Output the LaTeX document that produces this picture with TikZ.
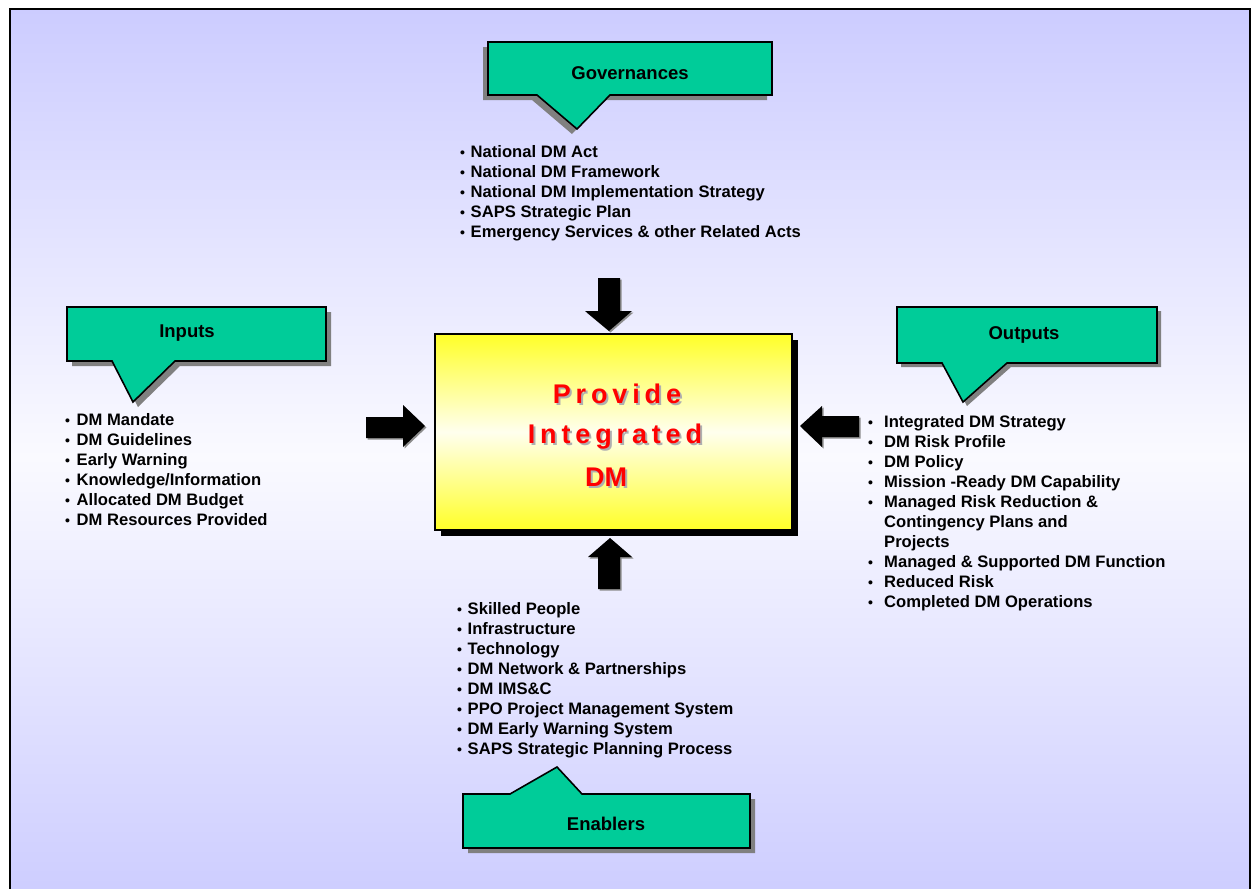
\documentclass[tikz,border=0pt]{standalone}
\usepackage{fontspec}
\setmainfont{Liberation Sans}
\newfontfamily\spacedfont[LetterSpace=18]{Liberation Sans}
\definecolor{calloutgreen}{RGB}{0,204,153}
\definecolor{bgedge}{RGB}{204,204,255}
\definecolor{bgmid}{RGB}{250,250,255}
\definecolor{boxyellow}{RGB}{255,255,40}
\definecolor{boxmid}{RGB}{255,255,238}
\definecolor{titlered}{RGB}{255,0,0}
\definecolor{textshadow}{RGB}{175,175,175}
\newcommand\bu{\makebox[\bw][l]{\fontsize{14}{14}\selectfont •}}
\begin{document}
\begin{tikzpicture}[x=1pt,y=-1pt,
  callout/.style={fill=calloutgreen,draw=black,line width=1.6pt,line join=miter},
  calloutshadow/.style={fill=black!50},
  calloutlabel/.style={font=\fontsize{18.5}{20}\selectfont\bfseries,inner sep=0pt},
  listtext/.style={font=\fontsize{16.6}{20}\selectfont\bfseries,inner sep=0pt,anchor=base west},
  blockarrow/.style={fill=black},
  arrowshadow/.style={fill=black!45},
  coretext/.style={inner sep=0pt,anchor=base,text=titlered},
  coreshadow/.style={inner sep=0pt,anchor=base,text=textshadow}]
\useasboundingbox (0,0) rectangle (1254,889);
\fill[white] (0,0) rectangle (1254,889);
% background frame
\shade[top color=bgedge,bottom color=bgedge,middle color=bgmid] (10,9) rectangle (1250,905);
\draw[line width=2.5pt] (10,9) rectangle (1250,905);

% central box
\fill[black] (441,340) rectangle (798,536);
\node[draw=black,line width=2pt,minimum width=357pt,minimum height=196pt,
  top color=boxyellow,bottom color=boxyellow,middle color=boxmid,inner sep=0pt]
  (core) at (613.5,432) {};
\node[coreshadow] (provideS) at (619,405) {\fontsize{27}{27}\selectfont\bfseries\spacedfont Provide};
\node[coretext] (provide) at (617,403) {\fontsize{27}{27}\selectfont\bfseries\spacedfont Provide};
\node[coreshadow] (integratedS) at (617,445) {\fontsize{27}{27}\selectfont\bfseries\spacedfont Integrated};
\node[coretext] (integrated) at (615,443) {\fontsize{27}{27}\selectfont\bfseries\spacedfont Integrated};
\node[coreshadow] (dmS) at (608,488) {\fontsize{27}{27}\selectfont\bfseries DM};
\node[coretext] (dm) at (606,486) {\fontsize{27}{27}\selectfont\bfseries DM};

% Governances callout
\fill[calloutshadow] (483,47) -- (767,47) -- (767,100) -- (605,100) -- (572,134) -- (532,100) -- (483,100) -- cycle;
\draw[callout] (488,42) -- (772,42) -- (772,95) -- (610,95) -- (577,129) -- (537,95) -- (488,95) -- cycle;
\node[calloutlabel] (gov) at (630,73) {Governances};

% Inputs callout
\fill[calloutshadow] (72,312) -- (331,312) -- (331,366) -- (180,366) -- (138,407) -- (117,366) -- (72,366) -- cycle;
\draw[callout] (67,307) -- (326,307) -- (326,361) -- (175,361) -- (133,402) -- (112,361) -- (67,361) -- cycle;
\node[calloutlabel] (inp) at (187,333) {Inputs};

% Outputs callout
\fill[calloutshadow] (901,311) -- (1161,311) -- (1161,367) -- (1011,367) -- (967,406) -- (946,367) -- (901,367) -- cycle;
\draw[callout] (897,307) -- (1157,307) -- (1157,363) -- (1007,363) -- (963,402) -- (942,363) -- (897,363) -- cycle;
\node[calloutlabel] (outp) at (1024,335) {Outputs};

% Enablers callout
\fill[calloutshadow] (468,799) -- (515,799) -- (562,772) -- (587,799) -- (755,799) -- (755,853) -- (468,853) -- cycle;
\draw[callout] (463,794) -- (510,794) -- (557,767) -- (582,794) -- (750,794) -- (750,848) -- (463,848) -- cycle;
\node[calloutlabel] (enab) at (606,824) {Enablers};

% block arrows
% top (down)
\fill[arrowshadow] (599.5,279.5) -- (621.5,279.5) -- (621.5,312.5) -- (633.5,312.5) -- (610.5,332.5) -- (586.5,312.5) -- (599.5,312.5) -- cycle;
\fill[blockarrow] (598,278) -- (620,278) -- (620,311) -- (632,311) -- (609,331) -- (585,311) -- (598,311) -- cycle;
% bottom (up)
\fill[arrowshadow] (611.5,539.5) -- (633.5,558.5) -- (621.5,558.5) -- (621.5,590.5) -- (599.5,590.5) -- (599.5,558.5) -- (589.5,558.5) -- cycle;
\fill[blockarrow] (610,538) -- (632,557) -- (620,557) -- (620,589) -- (598,589) -- (598,557) -- (588,557) -- cycle;
% left (right-pointing)
\fill[arrowshadow] (367.5,418.5) -- (404.5,418.5) -- (404.5,406.5) -- (426.5,427.5) -- (404.5,448.5) -- (404.5,439.5) -- (367.5,439.5) -- cycle;
\fill[blockarrow] (366,417) -- (403,417) -- (403,405) -- (425,426) -- (403,447) -- (403,438) -- (366,438) -- cycle;
% right (left-pointing)
\fill[arrowshadow] (801.5,427.5) -- (823.5,407.5) -- (823.5,417.5) -- (860.5,417.5) -- (860.5,438.5) -- (823.5,438.5) -- (823.5,448.5) -- cycle;
\fill[blockarrow] (800,426) -- (822,406) -- (822,416) -- (859,416) -- (859,437) -- (822,437) -- (822,447) -- cycle;

% lists
\node[listtext] (govlist) at (460,157) {\def\bw{10.5pt}\begin{tabular}[t]{@{}l@{}l@{}}
\bu & National DM Act\\
\bu & National DM Framework\\
\bu & National DM Implementation Strategy\\
\bu & SAPS Strategic Plan\\
\bu & Emergency Services \& other Related Acts
\end{tabular}};

\node[listtext] (inplist) at (65,425) {\def\bw{11.5pt}\begin{tabular}[t]{@{}l@{}l@{}}
\bu & DM Mandate\\
\bu & DM Guidelines\\
\bu & Early Warning\\
\bu & Knowledge/Information\\
\bu & Allocated DM Budget\\
\bu & DM Resources Provided
\end{tabular}};

\node[listtext] (outlist) at (868,427) {\def\bw{16pt}\begin{tabular}[t]{@{}l@{}l@{}}
\bu & Integrated DM Strategy\\
\bu & DM Risk Profile\\
\bu & DM Policy\\
\bu & Mission -Ready DM Capability\\
\bu & Managed Risk Reduction \&\\
    & Contingency Plans and\\
    & Projects\\
\bu & Managed \& Supported DM Function\\
\bu & Reduced Risk\\
\bu & Completed DM Operations
\end{tabular}};

\node[listtext] (enablist) at (457,614) {\def\bw{10.5pt}\begin{tabular}[t]{@{}l@{}l@{}}
\bu & Skilled People\\
\bu & Infrastructure\\
\bu & Technology\\
\bu & DM Network \& Partnerships\\
\bu & DM IMS\&C\\
\bu & PPO Project Management System\\
\bu & DM Early Warning System\\
\bu & SAPS Strategic Planning Process
\end{tabular}};
\end{tikzpicture}
\end{document}
